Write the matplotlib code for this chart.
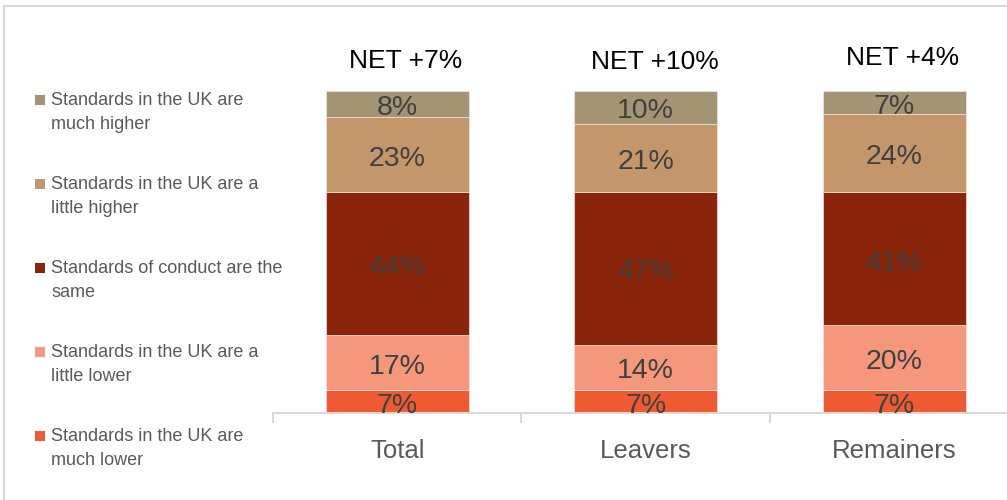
import matplotlib.pyplot as plt
import matplotlib.patches as mpatches
import numpy as np

groups = ["Total", "Leavers", "Remainers"]
net_labels = ["NET +7%", "NET +10%", "NET +4%"]

# stacked from the bottom up
much_lower = [7, 7, 7]
little_lower = [17, 14, 20]
same = [44, 47, 41]
little_higher = [23, 21, 24]
much_higher = [8, 10, 7]

series = [much_lower, little_lower, same, little_higher, much_higher]
series_names = [
    "Standards in the UK are\nmuch lower",
    "Standards in the UK are a\nlittle lower",
    "Standards of conduct are the\nsame",
    "Standards in the UK are a\nlittle higher",
    "Standards in the UK are\nmuch higher",
]
colors = ["#F05A32", "#F5977D", "#8A240A", "#C4966C", "#A39473"]

font = ["Liberation Sans", "DejaVu Sans"]

fig = plt.figure(figsize=(10.07, 5.0), dpi=100)
ax = fig.add_axes([273 / 1007, 87 / 500, 1 - 273 / 1007, 413 / 500])

x = np.arange(len(groups))
bottom = np.zeros(len(groups))
for vals, col in zip(series, colors):
    vals = np.array(vals)
    ax.bar(x, vals, width=0.575, bottom=bottom, color=col,
           edgecolor="#f2e6dc", linewidth=0.5)
    for xi, b, v in zip(x, bottom, vals):
        ax.text(xi, b + v / 2 - 1.2, f"{v}%", ha="center", va="center",
                fontsize=20.5, color="#404040", family=font)
    bottom += vals

# NET figures above each bar
net_y = [108.2, 107.9, 109.4]
for xi, lab, ny in zip(x, net_labels, net_y):
    ax.text(xi + 0.035, ny, lab, ha="center", va="center",
            fontsize=19, color="black", family=font)

ax.set_xlim(-0.5, 2.454)
ax.set_ylim(0, 127.1)

for s in ["top", "right", "left"]:
    ax.spines[s].set_visible(False)
ax.spines["bottom"].set_color("#d9d9d9")
ax.spines["bottom"].set_linewidth(1.5)
ax.set_yticks([])

ax.set_xticks(x)
ax.set_xticklabels(groups, family=font, fontsize=18.5, color="#595959")
ax.tick_params(axis="x", which="major", length=0, pad=19)
ax.set_xticks([-0.5, 0.5, 1.5], minor=True)
ax.tick_params(axis="x", which="minor", length=7, width=1.5,
               color="#d9d9d9", direction="out")

# legend drawn by hand: square marker next to the first line of each entry
y0 = 100
step = 84
for i, (name, col) in enumerate(zip(series_names[::-1], colors[::-1])):
    yy = y0 + i * step
    fig.patches.append(mpatches.Rectangle(
        (35 / 1007, 1 - (yy + 5) / 500), 10 / 1007, 10 / 500,
        transform=fig.transFigure, facecolor=col, edgecolor="none"))
    fig.text(51 / 1007, 1 - (yy - 8) / 500, name, ha="left", va="top",
             fontsize=13, color="#595959", family=font, linespacing=1.55)

# outer frame
fig.patches.append(mpatches.Rectangle(
    (4 / 1007, -0.05), 1.1, 1 - 6 / 500 + 0.05,
    transform=fig.transFigure, facecolor="none", edgecolor="#d9d9d9",
    linewidth=1.5))

fig.savefig("out.png", dpi=100)
